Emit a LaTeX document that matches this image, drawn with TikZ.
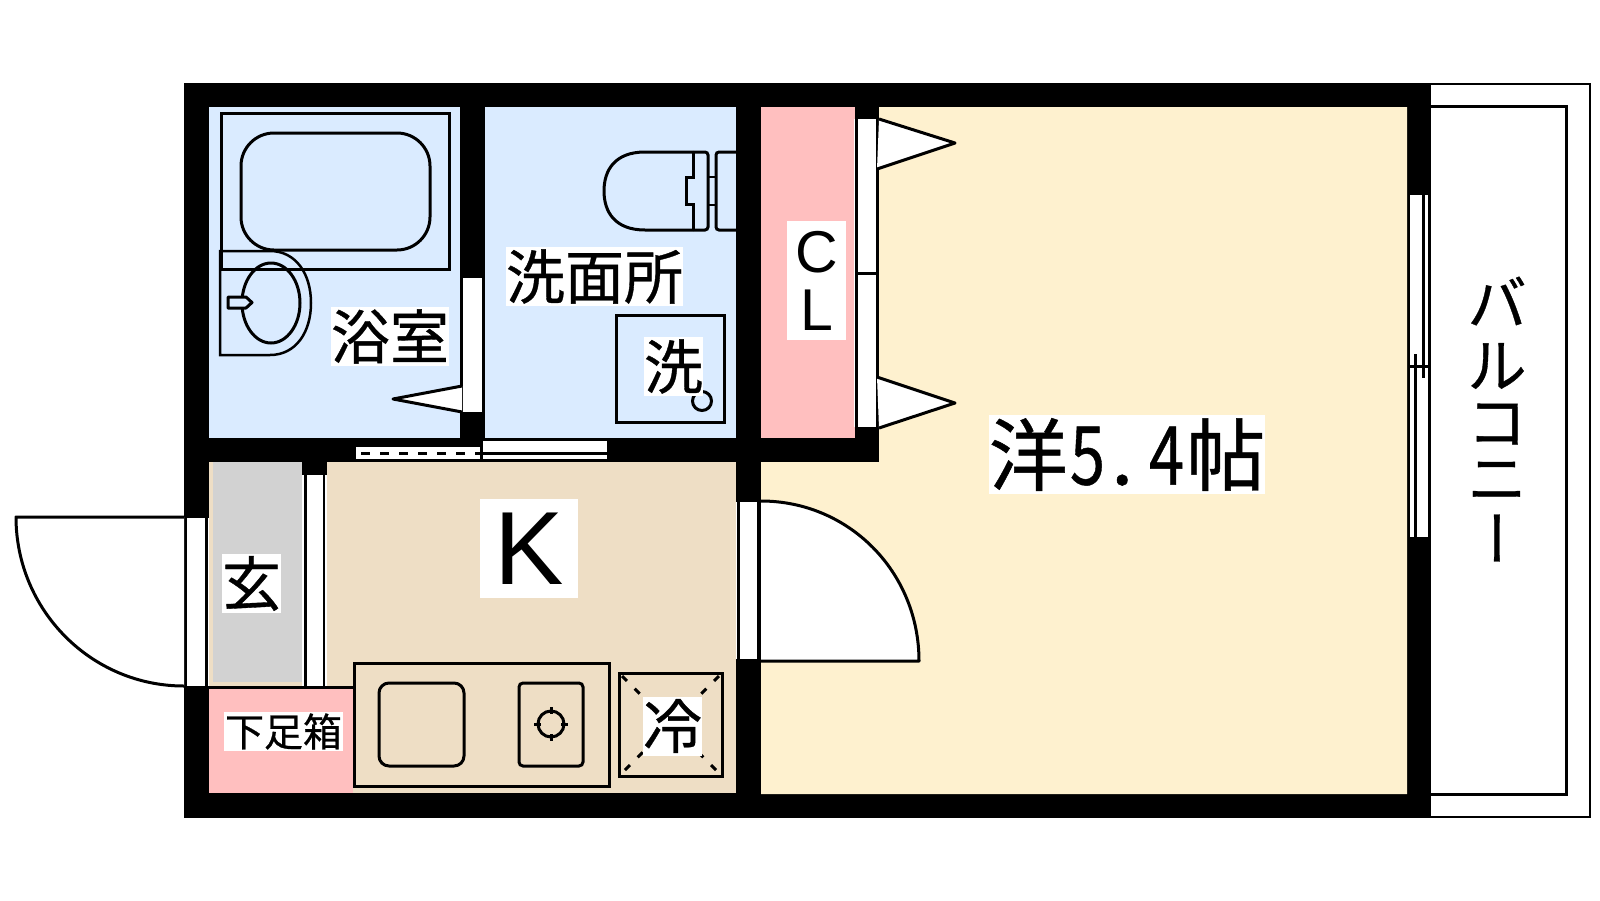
\documentclass[tikz,border=0pt]{standalone}
\usepackage{fontspec}
\setmainfont[FakeBold=0.6]{Noto Sans CJK JP}
\newfontfamily\latinfont{Liberation Sans}
\definecolor{bathblue}{HTML}{DAEBFF}
\definecolor{closetpink}{HTML}{FFBFBF}
\definecolor{kitchentan}{HTML}{EEDEC5}
\definecolor{roomcream}{HTML}{FEF1CF}
\definecolor{entrygray}{HTML}{D2D2D2}
\newcommand{\hw}[1]{\makebox[0.5em]{\scalebox{0.8}[1.03]{#1}}}
\tikzset{
	jp/.style={fill=white,inner sep=0pt,minimum height=#1,font=\fontsize{#1}{#1}\selectfont},
	latin/.style={fill=white,inner sep=0pt,align=center,font=\latinfont\fontsize{#1}{58pt}\selectfont},
	ln/.style={draw=black,line width=3pt,line join=miter},
	thinln/.style={draw=black,line width=2.5pt},
	leaf/.style={draw=black,line width=3pt,line join=round,fill=white}
}
\begin{document}
\begin{tikzpicture}[x=1pt,y=-1pt]
	\useasboundingbox (0,0) rectangle (1600,900);
	\fill[black] (184,83) rectangle (1431,818);
	\fill[bathblue] (209,107) rectangle (460,438);
	\fill[bathblue] (485,107) rectangle (736,438);
	\fill[closetpink] (761,107) rectangle (855,438);
	\fill[roomcream] (879,107)--(1407,107)--(1407,794)--(761,794)--(761,462)--(879,462)--cycle;
	\fill[kitchentan] (209,462) rectangle (736,793);
	\fill[entrygray] (213,462) rectangle (302,682);
	\fill[closetpink] (209,688) rectangle (353,793);
	\fill[black] (302,462) rectangle (327,475);
	\foreach \xa/\ya/\xb/\yb in {463/278/482/412,853.5/119/855/427,858/119/876/427,740/502/757/659,736/502/737/659,187/518/205/686,208/518/209/686,302/475/327/686,356/447/480/459,483/441/607/452,483/455/607/459,1410/195/1428/537}
		\fill[white] (\xa,\ya) rectangle (\xb,\yb);
	\foreach \xa/\ya/\xb/\yb in {304/475/306.5/686,322.5/475/325/686,1421.5/195/1424.5/378,1414/354/1417/537,1410/364.5/1428/367.5}
		\fill[black] (\xa,\ya) rectangle (\xb,\yb);
	\draw[line width=3pt,dash pattern=on 9pt off 10pt] (361,453)--(480,453);
	\draw[ln] (209,687)--(354,687);
	\draw[leaf] (184,517)--(16,517) .. controls (16,610) and (91,686) .. (184,686);
	\draw[leaf] (761,501) .. controls (849,501) and (919,572) .. (919,661)--(761,661);
	\draw[leaf] (462,386)--(393,399)--(462,412);
	\draw[leaf] (879,119)--(955,143)--(877,169);
	\draw[leaf] (877,377)--(955,403)--(879,428);
	\draw[ln] (855,273)--(879,273);
	\draw[ln] (221,113) rectangle (449,269);
	\draw[ln,rounded corners=33pt] (241,133) rectangle (430,250);
	\draw[thinln] (220,251)--(270,251) .. controls (296,251) and (311,274) .. (311,303) .. controls (311,332) and (296,355) .. (270,355)--(220,355)--cycle;
	\draw[ln] (271,303) ellipse (29pt and 40pt);
	\draw[ln,fill=bathblue,line join=round] (228,297)--(246,297)--(252,302.5)--(246,308)--(228,308)--cycle;
	\draw[ln] (693,152)--(645,152) .. controls (615,152) and (604,170) .. (604,191) .. controls (604,212) and (615,230) .. (645,230)--(693,230);
	\draw[ln] (693,152)--(693,177)--(686,177)--(686,204)--(693,204)--(693,230);
	\draw[ln,rounded corners=3pt] (693,152)--(708,152)--(708,230)--(693,230);
	\draw[thinln] (708,177)--(716,177);
	\draw[thinln] (708,205)--(716,205);
	\draw[ln,rounded corners=3pt] (736,152)--(716,152)--(716,230)--(736,230);
	\draw[ln] (616,315) rectangle (724,422);
	\draw[ln] (702,401) circle (9.5pt);
	\draw[ln] (354,663) rectangle (609,786);
	\draw[ln,rounded corners=10pt] (379,683) rectangle (464,766);
	\draw[ln,rounded corners=4pt] (519,683) rectangle (583,766);
	\draw[ln] (551,724) circle (13pt);
	\foreach \xa/\ya/\xb/\yb in {534/724/541/724,561/724/568/724,551/707/551/714,551/734/551/741}
		\draw[ln] (\xa,\ya)--(\xb,\yb);
	\draw[ln] (619,673) rectangle (722,776);
	\draw[line width=3pt,dash pattern=on 7pt off 11pt] (622,676)--(719,773);
	\draw[line width=3pt,dash pattern=on 7pt off 11pt] (719,676)--(622,773);
	\draw[thinln] (1431,84)--(1590,84)--(1590,817)--(1431,817);
	\draw[ln] (1431,106)--(1566,106)--(1566,794)--(1431,794);
	\node[jp=59pt] (bathlabel) at (390,336.5) {浴室};
	\node[jp=59pt] (washlabel) at (594.5,276.5) {洗面所};
	\node[jp=59pt] (washerlabel) at (673.5,366.5) {洗};
	\node[jp=59pt] (entrylabel) at (251.5,583.5) {玄};
	\node[jp=59pt] (fridgelabel) at (672.5,726) {冷};
	\node[jp=39pt,minimum width=119pt] (shoelabel) at (283.5,731.5) {下足箱};
	\node[jp=79pt] (roomlabel) at (1127,454.5) {洋\hw{5}\makebox[0.5em][l]{\hspace{4pt}.}\hw{4}帖};
	\node[latin=59pt,minimum width=59pt,minimum height=119pt] (closetlabel) at (816.5,280.5) {C\\L};
	\node[latin=104pt,minimum width=98pt,minimum height=99pt] (kitchenlabel) at (529,548.5) {K};
	\foreach \ch/\yy/\nn in {バ/301/a,ル/366/b,コ/424/c,ニ/481/d}
		\node[font=\fontsize{59pt}{59pt}\selectfont,inner sep=0pt] (balcony\nn) at (1497,\yy) {\ch};
	\node[font=\fontsize{59pt}{59pt}\selectfont,inner sep=0pt,rotate=-90] (balconye) at (1487,538) {ー};
\end{tikzpicture}
\end{document}
